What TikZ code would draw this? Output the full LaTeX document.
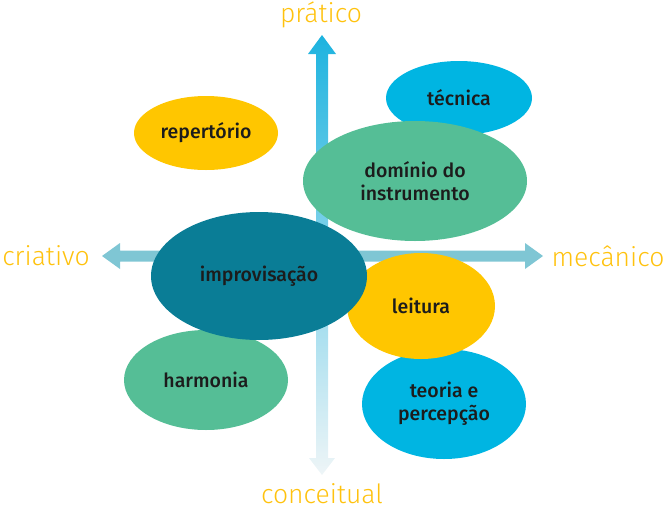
\documentclass[tikz,border=0pt]{standalone}
\usepackage{fontspec}
\setmainfont{Fira Sans}
\newfontfamily\axisfont{Fira Sans Light}
\newfontfamily\boxfont{Fira Sans Medium}
\usetikzlibrary{shapes.geometric}
\definecolor{cyanc}{HTML}{00B5E2}
\definecolor{yellowc}{HTML}{FFC600}
\definecolor{greenc}{HTML}{55BE96}
\definecolor{tealc}{HTML}{0A7D96}
\definecolor{axisc}{HTML}{7FC6D4}
\definecolor{labelc}{HTML}{FFC20E}
\definecolor{textc}{HTML}{1C1C1C}
\definecolor{vtop}{HTML}{1DB3DF}
\definecolor{vbot}{HTML}{EEF5F7}
\tikzset{
  blob/.style={ellipse, inner sep=0pt, text=textc, font=\boxfont\fontsize{19.5}{23}\selectfont, align=center},
  axislabel/.style={text=labelc, font=\axisfont\fontsize{26.5}{30}\selectfont, inner sep=0pt, anchor=base},
}
\begin{document}
\begin{tikzpicture}[x=1pt,y=-1pt]
\useasboundingbox (0,0) rectangle (667,509);
% vertical axis with gradient
\shade[top color=vtop, bottom color=vbot]
  (322,35) -- (336,54) -- (328,54) -- (328,458) -- (335,458) -- (322,475)
  -- (309,458) -- (316,458) -- (316,54) -- (308,54) -- cycle;
% horizontal axis
\fill[axisc]
  (102,256) -- (120,243) -- (120,250.5) -- (525,250.5) -- (525,243) -- (543,256)
  -- (525,269) -- (525,261.5) -- (120,261.5) -- (120,269) -- cycle;
% axis labels
\node[axislabel] (pratico) at (321,22) {prático};
\node[axislabel] (criativo) at (46,265) {criativo};
\node[axislabel] (mecanico) at (608,266) {mecânico};
\node[axislabel] (conceitual) at (322,503) {conceitual};
% ellipses
\node[blob, fill=cyanc, minimum width=146pt, minimum height=74pt] (tecnica) at (459,98) {técnica};
\node[blob, fill=yellowc, minimum width=144pt, minimum height=74pt] (repertorio) at (206,133) {repertório};
\node[blob, fill=greenc, minimum width=224pt, minimum height=120pt] (dominio) at (415,181) {domínio do\\instrumento};
\node[blob, fill=greenc, minimum width=164pt, minimum height=100pt] (harmonia) at (206,380) {harmonia};
\node[blob, fill=cyanc, minimum width=164pt, minimum height=110pt] (teoria) at (444,404) {teoria e\\percepção};
\node[blob, fill=yellowc, minimum width=148pt, minimum height=106pt] (leitura) at (421,306) {leitura};
\node[blob, fill=tealc, minimum width=216pt, minimum height=128pt] (improvisacao) at (259,276) {improvisação};
\end{tikzpicture}
\end{document}
